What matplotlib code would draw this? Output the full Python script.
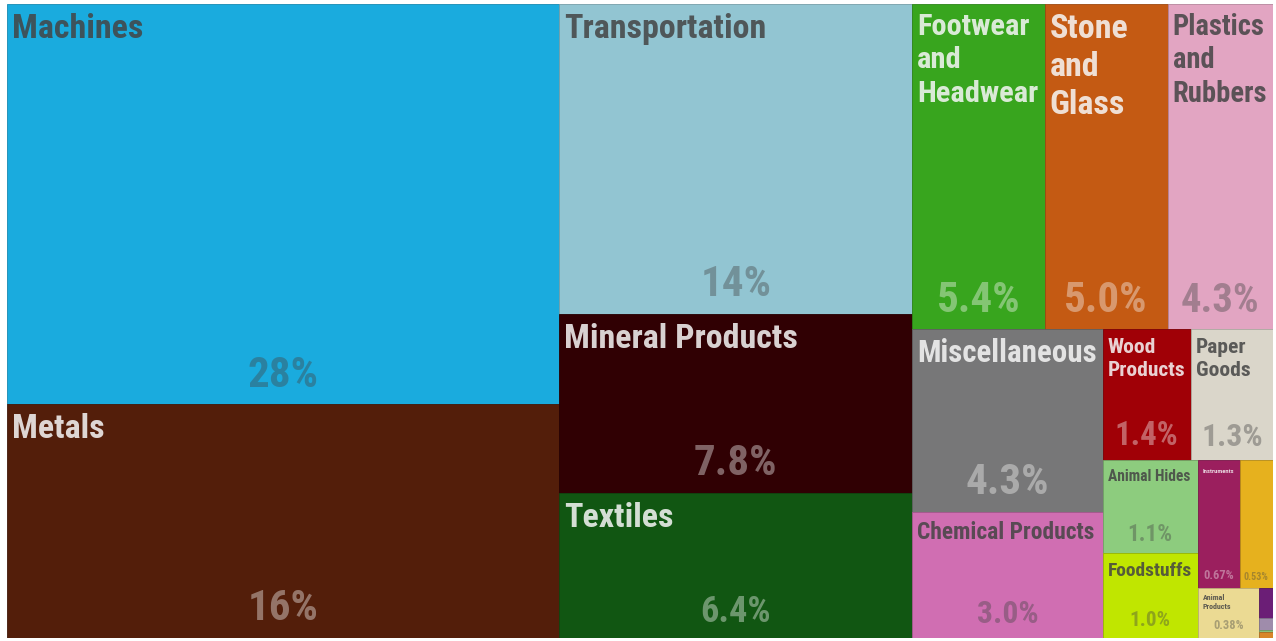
import matplotlib
matplotlib.use("Agg")
import matplotlib.pyplot as plt
import matplotlib.colors as mcolors
from matplotlib.patches import Rectangle
from matplotlib.font_manager import FontProperties, findfont

# Export shares by product section (percent of total)
names = ["Machines", "Metals", "Transportation", "Mineral Products", "Textiles",
         "Footwear and Headwear", "Stone and Glass", "Plastics and Rubbers",
         "Miscellaneous", "Chemical Products", "Wood Products", "Paper Goods",
         "Animal Hides", "Foodstuffs", "Instruments", "Precious Metals",
         "Animal Products", "Weapons", "Arts and Antiques", "Vegetable Products",
         "Animal and Vegetable Bi-Products"]
values = [27.52, 16.05, 13.6, 7.84, 6.38,
          5.36, 4.98, 4.27,
          4.32, 3.0, 1.43, 1.34,
          1.1, 1.0, 0.67, 0.53,
          0.38, 0.05, 0.02, 0.004,
          0.01]
colors = ["#1aabde", "#531e0a", "#92c5d2", "#300003", "#115612",
          "#38a51e", "#c45a13", "#e2a5c2",
          "#777778", "#d06eb2", "#a00006", "#dad6ca",
          "#8dcc7e", "#c0e600", "#9b1f5e", "#e6b11e",
          "#ebda93", "#6b1e76", "#9f8cab", "#8bc07a",
          "#d8862a"]

# how the treemap is cut: items per strip and strip direction
strip_counts = [2, 3, 3, 2, 2, 2, 2, 1, 1, 1, 1, 1]
strip_dirs = ["col", "col", "row", "col", "row", "col", "row", "col", "row", "row", "row", "row"]

DPI = 100
FIG_W, FIG_H = 1276, 641
AX_L, AX_T, AX_W, AX_H = 7, 4, 1266, 634


def pick_font(cands):
    for c in cands:
        try:
            findfont(FontProperties(family=c), fallback_to_default=False)
            return c
        except ValueError:
            pass
    return "DejaVu Sans"


FONT = pick_font(["Liberation Sans Narrow", "Roboto Condensed", "Liberation Sans", "DejaVu Sans"])


def layout(vals, counts, dirs, x0, y0, x1, y1):
    rects = []
    total = sum(vals)
    i = 0
    for n, d in zip(counts, dirs):
        grp = vals[i:i + n]
        s = sum(grp)
        if d == "col":
            w = (x1 - x0) * s / total
            yy = y0
            for v in grp:
                h = (y1 - y0) * v / s
                rects.append((x0, yy, w, h))
                yy += h
            x0 += w
        else:
            h = (y1 - y0) * s / total
            xx = x0
            for v in grp:
                w = (x1 - x0) * v / s
                rects.append((xx, y0, w, h))
                xx += w
            y0 += h
        total -= s
        i += n
    return rects


def fmt_pct(v):
    if v >= 10:
        return f"{v:.0f}%"
    if v >= 1:
        return f"{v:.1f}%"
    return f"{v:.2f}%"


fig = plt.figure(figsize=(FIG_W / DPI, FIG_H / DPI), dpi=DPI, facecolor="white")
ax = fig.add_axes([AX_L / FIG_W, 1 - (AX_T + AX_H) / FIG_H, AX_W / FIG_W, AX_H / FIG_H])
ax.set_xlim(0, AX_W)
ax.set_ylim(AX_H, 0)
ax.axis("off")

renderer = fig.canvas.get_renderer()


def text_w(s, px):
    fp = FontProperties(family=FONT, weight="bold", size=px * 72 / DPI)
    w, h, d = renderer.get_text_width_height_descent(s, fp, ismath=False)
    return w


def wrap(words, px, maxw):
    lines, cur = [], ""
    for wd in words:
        trial = (cur + " " + wd).strip()
        if cur and text_w(trial, px) > maxw:
            lines.append(cur)
            cur = wd
        else:
            cur = trial
    lines.append(cur)
    return lines


def fit_name(label, w, h, max_px=34.0):
    maxw = w - 10
    px = max_px
    while px > 4:
        lines = wrap(label.split(), px, maxw)
        widest = max(text_w(l, px) for l in lines)
        if widest <= maxw and len(lines) * px * 1.25 <= 0.42 * h:
            return "\n".join(lines), px
        px -= 0.5
    return None, None


def fit_pct(label, w, h, max_px=43.0):
    px = min(max_px, 0.25 * h)
    while px > 4 and text_w(label, px) > 0.75 * w:
        px -= 0.5
    return px


rects = layout(values, strip_counts, strip_dirs, 0, 0, AX_W, AX_H)

for name, v, c, (x, y, w, h) in zip(names, values, colors, rects):
    edge = tuple(ch * 0.8 for ch in mcolors.to_rgb(c))
    ax.add_patch(Rectangle((x, y), w, h, facecolor=c, edgecolor=edge, linewidth=0.6))

    r, g, b = [ch * 255 for ch in mcolors.to_rgb(c)]
    bright = 0.299 * r + 0.587 * g + 0.114 * b
    tc = "#444444" if bright > 128 else "#f7f7f7"

    if w >= 40 and h >= 30:
        txt, px = fit_name(name, w, h)
        if txt:
            ax.text(x + 5, y + min(9, 0.12 * h), txt, ha="left", va="top", color=tc, alpha=0.85,
                    fontsize=px * 72 / DPI, family=FONT, weight="bold", linespacing=1.25)

    if w >= 25 and h >= 30:
        lab = fmt_pct(v)
        px = fit_pct(lab, w, h)
        ax.text(x + w / 2, y + h - (6 + 0.27 * px), lab, ha="center", va="baseline",
                color=tc, alpha=0.4, fontsize=px * 72 / DPI, family=FONT, weight="bold")

fig.savefig("out.png", dpi=DPI, facecolor="white")
